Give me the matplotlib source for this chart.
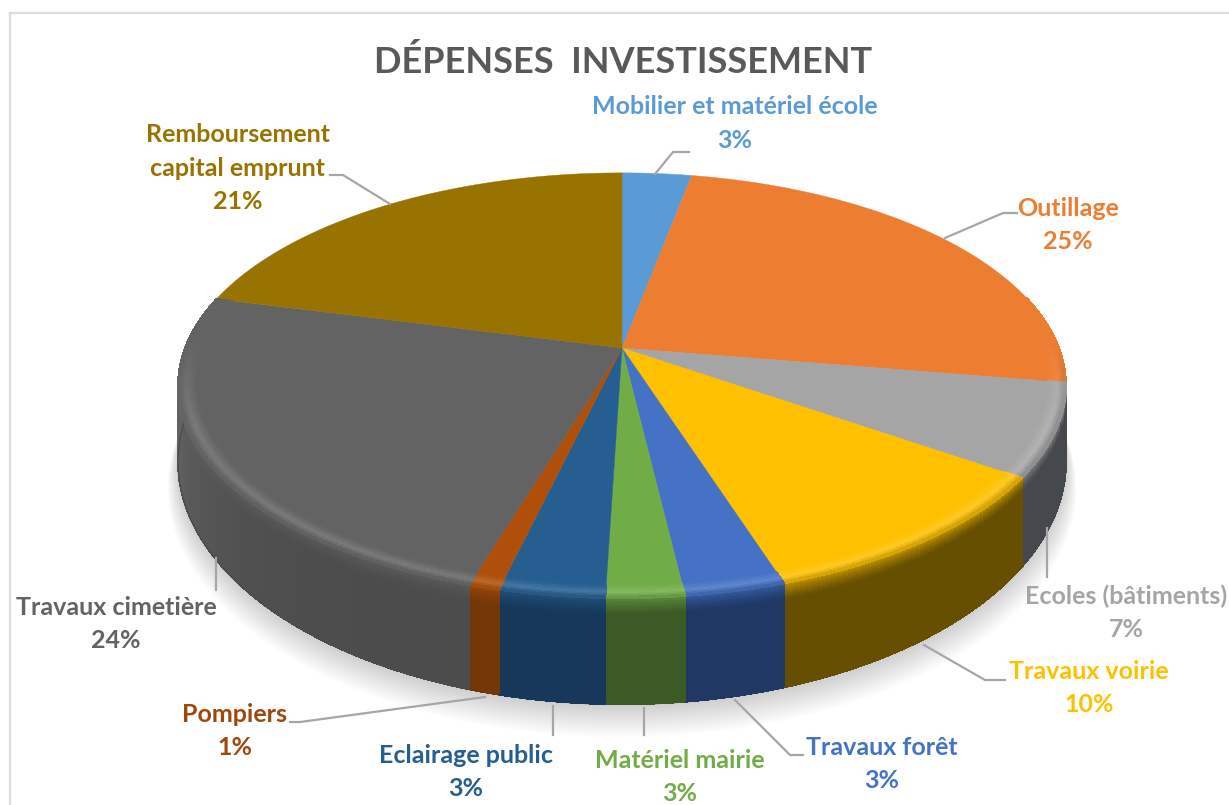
import numpy as np
import matplotlib
matplotlib.use('Agg')
import matplotlib.pyplot as plt
from matplotlib.collections import PolyCollection
from matplotlib.colors import to_rgb

labels = ['Mobilier et matériel école', 'Outillage', 'Ecoles (bâtiments)', 'Travaux voirie',
          'Travaux forêt', 'Matériel mairie', 'Eclairage public', 'Pompiers',
          'Travaux cimetière', 'Remboursement\ncapital emprunt']
# printed percentages, and the shares as they read on the drawn slices
percents = [3, 25, 7, 10, 3, 3, 3, 1, 24, 21]
values = [3.0, 24.6, 7.0, 10.4, 3.1, 2.4, 3.25, 0.95, 24.3, 21.0]
colors = ['#5B9BD5', '#ED7D31', '#A5A5A5', '#FFC000', '#4472C4',
          '#70AD47', '#255E91', '#B04F0A', '#636363', '#997300']
wall_colors = ['#37658c', '#4f4640', '#45484c', '#665000', '#1f3864',
               '#3b5a26', '#17385a', '#743708', '#4c4c4c', '#5c4500']
text_colors = ['#5B9BD5', '#ED7D31', '#A5A5A5', '#FFC000', '#4472C4',
               '#70AD47', '#255E91', '#9E480E', '#636363', '#997300']
label_pos = [(735, 107), (1068, 208), (1126, 596), (1089, 671), (882, 747),
             (680, 760), (466, 755), (235, 714), (116, 607), (238, 135)]
leaders = [[(655, 174), (673, 152), (689, 152)],
           [(945, 238), (1003, 213), (1017, 213)],
           [(1047, 528), (1047, 577)],
           [(924, 645), (985, 680), (1005, 680)],
           [(735, 700), (790, 755), (803, 755)],
           [(644, 708), (644, 735)],
           [(553, 706), (553, 735)],
           [(485, 697), (300, 722), (290, 722)],
           [(216, 558), (216, 590)],
           [(390, 204), (343, 175), (330, 175)]]

CX, CY, R, K, D = 622, 348, 437, 206, 5.67
DEPTH = 72

plt.rcParams['font.family'] = ['Lato', 'DejaVu Sans']


def project(theta, r=1.0, drop=0.0):
    # theta in degrees clockwise from the top of the pie
    t = np.radians(theta)
    x, y = r * np.sin(t), r * np.cos(t)
    s = D / (D + y)
    return CX + R * x * s, CY - K * y * s + DEPTH * drop * s ** 2


def mix(a, b, f):
    return tuple(np.array(a) * (1 - f) + np.array(b) * f)


fig = plt.figure(figsize=(12.29, 8.05), dpi=100)
ax = fig.add_axes([0, 0, 1, 1])
ax.set_xlim(0, 1229)
ax.set_ylim(805, 0)
ax.axis('off')

# chart frame
ax.plot([10, 10], [805, 13], color='#DDDDDD', lw=1.6, zorder=1)
ax.plot([10, 1229], [13, 13], color='#DDDDDD', lw=1.6, zorder=1)

# soft shadow below the pie
th = np.linspace(0, 360, 361)
for i in range(24):
    gx, gy = project(th, 1.0 + i * 0.001, 1.0)
    ax.fill(gx, gy + 2 + i * 1.0, color='black', alpha=0.009, lw=0, zorder=2)

edges = np.concatenate([[0], np.cumsum(values)]) * 3.6

wall_polys, wall_cols = [], []
band_polys, band_cols = [], []
for i in range(len(values)):
    a0, a1 = edges[i], edges[i + 1]
    n = max(int((a1 - a0) / 0.75), 2)
    ang = np.linspace(a0, a1, n + 1)
    face = to_rgb(colors[i])
    wall = to_rgb(wall_colors[i])
    # side wall, with the rounded edge fading into it
    drops = np.concatenate([np.linspace(0, 0.16, 9), [0.5, 1.0]])
    for j in range(n):
        ta, tb = ang[j], ang[j + 1]
        tm = (ta + tb) / 2
        if np.cos(np.radians(tm)) > 0.25:
            continue
        sx = np.sin(np.radians(tm))
        lit = 1 + 0.3 * max(0, -sx) ** 6
        w = tuple(np.clip(np.array(wall) * lit, 0, 1))
        for k in range(len(drops) - 1):
            d0, d1 = drops[k], drops[k + 1]
            xa0, ya0 = project(ta, 1, d0)
            xb0, yb0 = project(tb, 1, d0)
            xb1, yb1 = project(tb, 1, d1)
            xa1, ya1 = project(ta, 1, d1)
            wall_polys.append([(xa0, ya0), (xb0, yb0), (xb1, yb1), (xa1, ya1)])
            f = min((d0 + d1) / 2 / 0.16, 1)
            wall_cols.append(mix(mix(face, w, 0.3), w, f ** 0.7))
        # rounded edge on the top face
        front = np.clip((-np.cos(np.radians(tm)) + 0.05) / 0.4, 0, 1)
        rs = np.linspace(0.96, 1.0, 9)
        for k in range(len(rs) - 1):
            r0, r1 = rs[k], rs[k + 1]
            xa0, ya0 = project(ta, r0)
            xb0, yb0 = project(tb, r0)
            xb1, yb1 = project(tb, r1)
            xa1, ya1 = project(ta, r1)
            u = (k + 0.5) / (len(rs) - 1)
            light = mix(face, (1, 1, 1), 0.15)
            if u < 0.6:
                c = mix(face, light, u / 0.6)
            else:
                c = mix(light, mix(face, w, 0.3), (u - 0.6) / 0.4)
            band_polys.append([(xa0, ya0), (xb0, yb0), (xb1, yb1), (xa1, ya1)])
            band_cols.append(mix(face, c, front))

ax.add_collection(PolyCollection(wall_polys, facecolors=wall_cols, edgecolors=wall_cols,
                                 linewidths=0.6, antialiaseds=False, zorder=3))

# smooth the lower outline of the wall
for i in range(len(values)):
    ang = np.linspace(edges[i], edges[i + 1], 120)
    ang = ang[np.cos(np.radians(ang)) <= 0.25]
    if len(ang) > 1:
        ox, oy = project(ang, 1, 1.0)
        ax.plot(ox, oy, color=wall_colors[i], lw=1.0, zorder=3, solid_capstyle='butt')

# top faces
for i in range(len(values)):
    ang = np.linspace(edges[i], edges[i + 1], 200)
    fx, fy = project(ang)
    ax.fill(np.r_[CX, fx], np.r_[CY, fy], color=colors[i], lw=0.3, zorder=4)

ax.add_collection(PolyCollection(band_polys, facecolors=band_cols, edgecolors=band_cols,
                                 linewidths=0.6, antialiaseds=False, zorder=5))

# leader lines
for pts in leaders:
    xs, ys = zip(*pts)
    ax.plot(xs, ys, color='#A6A6A6', lw=1.6, zorder=6, solid_joinstyle='round')

# labels
for name, v, c, (lx, ly) in zip(labels, percents, text_colors, label_pos):
    lines = name.split('\n') + ['%d%%' % v]
    for n, line in enumerate(lines):
        ax.text(lx, ly + n * 33, line, color=c, fontsize=18, fontweight='bold',
                ha='center', va='center', zorder=7)

ax.text(623, 62, 'DÉPENSES  INVESTISSEMENT', color='#595959', fontsize=26,
        fontweight='bold', ha='center', va='center', zorder=7)

fig.savefig('out.png', dpi=100)
